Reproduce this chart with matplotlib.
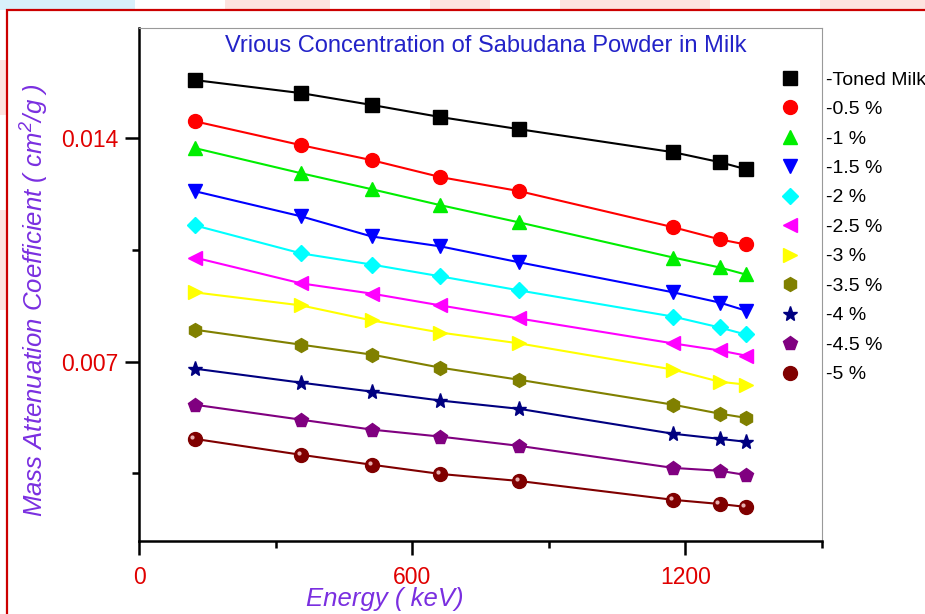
import matplotlib
matplotlib.use('Agg')
import matplotlib.pyplot as plt
import matplotlib.transforms as mtransforms
from matplotlib.patches import Rectangle
from matplotlib.lines import Line2D

# Energias (keV)
energia = [122, 356, 511, 662, 835, 1173, 1275, 1332]

# Coeficiente de atenuacao de massa (cm2/g)
toned_milk = [0.01582, 0.01541, 0.01504, 0.01466, 0.01428, 0.01356, 0.01325, 0.01303]
c05 = [0.01453, 0.01378, 0.01331, 0.01278, 0.01234, 0.01121, 0.01083, 0.01067]
c10 = [0.01369, 0.01290, 0.01240, 0.01190, 0.01136, 0.01026, 0.00995, 0.00973]
c15 = [0.01234, 0.01155, 0.01092, 0.01061, 0.01011, 0.00917, 0.00885, 0.00860]
c20 = [0.01127, 0.01039, 0.01004, 0.00967, 0.00923, 0.00841, 0.00807, 0.00785]
c25 = [0.01026, 0.00945, 0.00913, 0.00876, 0.00835, 0.00757, 0.00735, 0.00719]
c30 = [0.00917, 0.00876, 0.00829, 0.00791, 0.00757, 0.00675, 0.00637, 0.00628]
c35 = [0.00800, 0.00753, 0.00722, 0.00681, 0.00643, 0.00565, 0.00537, 0.00524]
c40 = [0.00678, 0.00634, 0.00606, 0.00578, 0.00552, 0.00474, 0.00458, 0.00449]
c45 = [0.00565, 0.00518, 0.00487, 0.00465, 0.00436, 0.00367, 0.00358, 0.00345]
c50 = [0.00458, 0.00408, 0.00377, 0.00348, 0.00326, 0.00267, 0.00254, 0.00245]

rotulos = ['-Toned Milk', '-0.5 %', '-1 %', '-1.5 %', '-2 %', '-2.5 %',
           '-3 %', '-3.5 %', '-4 %', '-4.5 %', '-5 %']
series = [toned_milk, c05, c10, c15, c20, c25, c30, c35, c40, c45, c50]

cores = ['#000000', '#ff0000', '#00ee00', '#0000ff', '#00ffff', '#ff00ff',
         '#ffff00', '#808000', '#000080', '#800080', '#800000']
marcadores = ['s', 'o', '^', 'v', 'D', '<', '>', 'h', '*', 'p', 'o']
tamanhos = {'s': 9.5, 'o': 10, '^': 10, 'v': 10, 'D': 8.5, '<': 10, '>': 10,
            'h': 10, '*': 11, 'p': 10.5}

plt.rcParams['font.family'] = ['Liberation Sans', 'DejaVu Sans']
plt.rcParams['mathtext.fontset'] = 'custom'
plt.rcParams['mathtext.rm'] = 'Liberation Sans:italic'
plt.rcParams['mathtext.it'] = 'Liberation Sans:italic'

W, H = 925, 614
fig = plt.figure(figsize=(W / 100, H / 100), dpi=100)

def px(x, y, w, h):
	# retangulo em pixels (origem no topo)
	return (x / W, 1 - (y + h) / H), w / W, h / H

# Fundo (marca d'agua)
for (x, y, w, h, c) in [(0, 0, 135, 10, '#d8f1fb'), (225, 0, 105, 10, '#fde3df'),
                        (430, 0, 60, 10, '#fde3df'), (560, 0, 150, 10, '#fde3df'),
                        (820, 0, 105, 10, '#fde3df'), (0, 60, 7, 55, '#fde3df'),
                        (0, 210, 7, 100, '#fde3df')]:
	xy, ww, hh = px(x, y, w, h)
	fig.patches.append(Rectangle(xy, ww, hh, transform=fig.transFigure,
	                             facecolor=c, edgecolor='none', zorder=0))
xy, ww, hh = px(7, 10, 940, 620)
fig.patches.append(Rectangle(xy, ww, hh, transform=fig.transFigure,
                             facecolor='none', edgecolor='#cc0000', lw=1.6, zorder=1))

ax = fig.add_axes([139 / W, 1 - 541 / H, (822 - 139) / W, (541 - 28) / H])

for y, cor, m, rot in zip(series, cores, marcadores, rotulos):
	ax.plot(energia, y, color=cor, lw=1.5, marker=m, markersize=tamanhos[m],
	        markeredgecolor=cor, label=rot)

# brilho da bolinha (-5 %)
brilho = mtransforms.offset_copy(ax.transData, fig=fig, x=-1.5, y=1.5, units='points')
ax.plot(energia, c50, linestyle='none', marker='o', markersize=3,
        color='#e8b0b0', markeredgecolor='none', transform=brilho)

ax.set_xlim(0, 1500)
ax.set_ylim(0.00138, 0.01745)
ax.set_xticks([0, 600, 1200])
ax.set_xticks([300, 900, 1500], minor=True)
ax.set_yticks([0.007, 0.014])
ax.set_yticks([0.0035, 0.0105], minor=True)
ax.set_yticklabels(['0.007', '0.014'])

for lado in ['left', 'bottom']:
	ax.spines[lado].set_linewidth(1.8)
for lado in ['top', 'right']:
	ax.spines[lado].set_linewidth(0.8)
	ax.spines[lado].set_color('#999999')

ax.tick_params(which='major', length=10, width=1.8, colors='black',
               labelcolor='#e00000', labelsize=16.5)
ax.tick_params(axis='y', which='major', pad=5)
ax.tick_params(axis='x', which='major', pad=8)
ax.tick_params(which='minor', length=5, width=1.8, colors='black')

fig.text(486 / W, 1 - 46 / H, 'Vrious Concentration of Sabudana Powder in Milk',
         color='#2323c8', fontsize=17, ha='center', va='center')

fig.text(385 / W, 1 - 599 / H, 'Energy ( keV)', color='#7a2fe0', fontsize=18.5,
         style='italic', ha='center', va='center')
fig.text(35 / W, 1 - 300 / H, 'Mass Attenuation Coefficient ( cm$^2$/g )',
         color='#7a2fe0', fontsize=18.5, style='italic', rotation=90,
         ha='center', va='center')

alcas = [Line2D([], [], color=c, marker=m, linestyle='none', markersize=tamanhos[m])
         for c, m in zip(cores, marcadores)]
ax.legend(alcas, rotulos, loc='upper left', bbox_to_anchor=(780 / W, 1 - 71 / H),
          bbox_transform=fig.transFigure, frameon=False, fontsize=14,
          borderpad=0, borderaxespad=0, handlelength=1, handletextpad=1.37,
          labelspacing=0.61)

fig.savefig('out.png', dpi=100)
